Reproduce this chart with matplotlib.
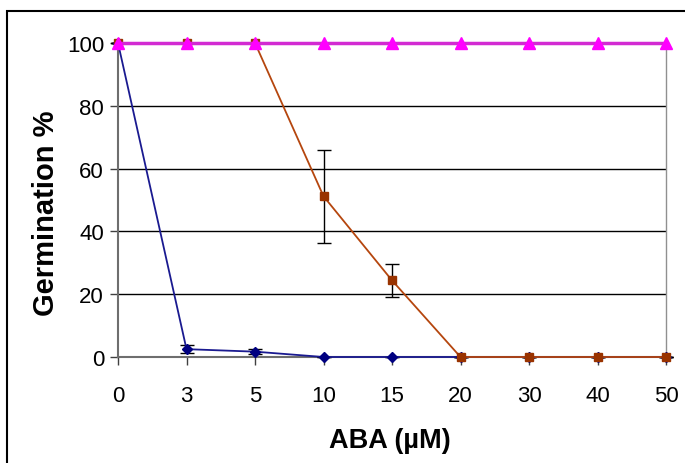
import matplotlib
matplotlib.use('Agg')
from matplotlib import pyplot as plt
from matplotlib.patches import Rectangle

# data
aba = ['0', '3', '5', '10', '15', '20', '30', '40', '50']
blue = [100, 2.5, 1.7, 0, 0, 0, 0, 0, 0]
blue_err = [0, 1.3, 0.9, 0, 0, 0, 0, 0, 0]
brown = [100, 100, 100, 51.2, 24.4, 0, 0, 0, 0]
brown_err = [0, 0, 0, 14.8, 5.2, 0, 0, 0, 0]
pink = [100, 100, 100, 100, 100, 100, 100, 100, 100]

plt.rcParams['font.family'] = ['Liberation Sans', 'DejaVu Sans']

fig = plt.figure(figsize=(6.85, 4.64), dpi=100)
ax = fig.add_axes([118 / 685, 1 - 358 / 464, 548 / 685, 314 / 464])

x = range(len(aba))

# error bars first, then lines with markers
ax.errorbar(x, blue, yerr=blue_err, fmt='none', ecolor='black', elinewidth=1,
            capsize=5, capthick=1, zorder=3, clip_on=False)
ax.errorbar(x, brown, yerr=brown_err, fmt='none', ecolor='black', elinewidth=1,
            capsize=5, capthick=1, zorder=3, clip_on=False)

ax.plot(x, blue, color='#1a1a90', lw=1.3, zorder=4, clip_on=False)
ax.plot(x, blue, ls='none', marker='D', ms=5, color='#000080', zorder=4, clip_on=False)
ax.plot(x, brown, color='#b5460e', lw=1.3, zorder=5, clip_on=False)
ax.plot(x, brown, ls='none', marker='s', ms=6, color='#993300', zorder=5, clip_on=False)
ax.plot(x, pink, color='#d22ad2', lw=2.5, zorder=6, clip_on=False)
ax.plot(x, pink, ls='none', marker='^', ms=8, color='#ff00ff', zorder=6, clip_on=False)

ax.set_xlim(0, len(aba) - 1)
ax.set_ylim(0, 100)
ax.set_xticks(list(x))
ax.set_xticklabels(aba)
ax.set_yticks(range(0, 101, 20))

ax.tick_params(axis='y', direction='out', length=6, width=1, labelsize=16, pad=4, color='#404040')
ax.tick_params(axis='x', direction='out', length=6, width=1, labelsize=16, pad=14, color='#404040')

# gridlines
ax.yaxis.grid(True, color='black', lw=1)
ax.set_axisbelow(True)

ax.spines['top'].set_visible(False)
ax.spines['left'].set_color('#6e6e6e')
ax.spines['left'].set_linewidth(1.5)
ax.spines['bottom'].set_color('#6e6e6e')
ax.spines['bottom'].set_linewidth(1.5)
ax.spines['right'].set_color('#909090')
ax.spines['right'].set_linewidth(1)

ax.set_xlabel('ABA (µM)', fontsize=19.5, fontweight='bold')
ax.set_ylabel('Germination %', fontsize=21, fontweight='bold')
ax.xaxis.set_label_coords(0.497, -(441 - 358) / 314, transform=ax.transAxes)
ax.yaxis.set_label_coords(-(118 - 46) / 548, (358 - 213) / 314)
ax.xaxis.label.set_va('center')
ax.yaxis.label.set_va('center')

# outer frame (right and bottom fall outside the picture)
fig.patches.append(Rectangle((7 / 685, -0.1), 1.2, 1.1 - 12 / 464, transform=fig.transFigure,
                             fill=False, ec='black', lw=1.5))

plt.savefig('out.png', dpi=100)
